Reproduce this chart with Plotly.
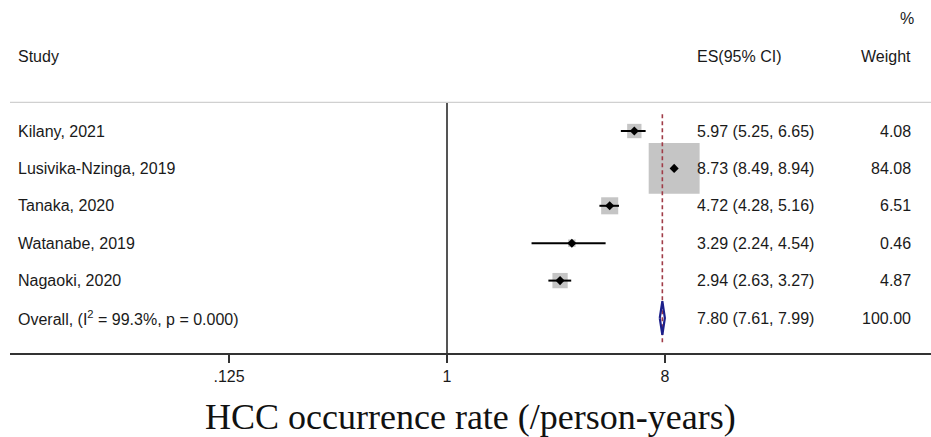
import numpy as np
import plotly.graph_objects as go

studies = ["Kilany, 2021", "Lusivika-Nzinga, 2019", "Tanaka, 2020", "Watanabe, 2019", "Nagaoki, 2020"]
es = [5.97, 8.73, 4.72, 3.29, 2.94]
lo = [5.25, 8.49, 4.28, 2.24, 2.63]
hi = [6.65, 8.94, 5.16, 4.54, 3.27]
weights = [4.08, 84.08, 6.51, 0.46, 4.87]

overall_label = "Overall, (I<sup>2</sup> = 99.3%, p = 0.000)"
overall_es, overall_lo, overall_hi, overall_w = 7.80, 7.61, 7.99, 100.00

tick_vals = [0.125, 1, 8]
tick_text = [".125", "1", "8"]
x_title = "HCC occurrence rate (/person-years)"

rows = list(range(1, len(studies) + 1))
overall_row = len(studies) + 1

FONT = "Liberation Sans, Arial, sans-serif"
TXT = "#1a1a1a"

fig = go.Figure()

# weight boxes
box_sizes = [5.12 * np.sqrt(w) + 4 for w in weights]
fig.add_trace(go.Scatter(x=es, y=rows, mode="markers",
                         marker=dict(symbol="square", size=box_sizes, color="#adadad",
                                     line=dict(width=0)),
                         hoverinfo="skip", showlegend=False))

# null line at 1
fig.add_trace(go.Scatter(x=[1, 1], y=[0.233, 6.936], mode="lines",
                         line=dict(color="#555555", width=2),
                         hoverinfo="skip", showlegend=False))

# overall dashed line
fig.add_trace(go.Scatter(x=[overall_es, overall_es], y=[0.55, 6.7], mode="lines",
                         line=dict(color="#a03c48", width=1.6, dash="4px,3px"),
                         hoverinfo="skip", showlegend=False))

# CI lines
cx, cy = [], []
for r, l, h in zip(rows, lo, hi):
    cx += [l, h, None]
    cy += [r, r, None]
fig.add_trace(go.Scatter(x=cx, y=cy, mode="lines",
                         line=dict(color="black", width=2),
                         hoverinfo="skip", showlegend=False))

# point estimates
fig.add_trace(go.Scatter(x=es, y=rows, mode="markers",
                         marker=dict(symbol="diamond", size=7, color="black",
                                     line=dict(width=0)),
                         hoverinfo="skip", showlegend=False))

# overall diamond
hh = 0.45
fig.add_trace(go.Scatter(
    x=[overall_lo, overall_es, overall_hi, overall_es, overall_lo],
    y=[overall_row, overall_row - hh, overall_row, overall_row + hh, overall_row],
    mode="lines", line=dict(color="#1c1f8a", width=2.2),
    hoverinfo="skip", showlegend=False))

# header separator line
fig.add_shape(type="line", xref="paper", yref="y", x0=0, x1=1, y0=0.233, y1=0.233,
              line=dict(color="#d0d0d0", width=1.2))

X_STUDY = 6 / 921
X_ES = (695 - 10) / 921
X_W = (913 - 10) / 921

def ann(x, y, text, anchor):
    fig.add_annotation(x=x, y=y, xref="paper", yref="y", text=text, showarrow=False,
                       xanchor=anchor, yanchor="middle",
                       font=dict(family=FONT, size=16, color=TXT))

ann(X_STUDY, -1, "Study", "left")
ann(X_ES, -1, "ES(95% CI)", "left")
ann(X_W, -1, "Weight", "right")
ann(X_W + 3 / 921, -2, "%", "right")

for r, s, e, l, h, w in zip(rows, studies, es, lo, hi, weights):
    ann(X_STUDY, r, s, "left")
    ann(X_ES, r, f"{e:.2f} ({l:.2f}, {h:.2f})", "left")
    ann(X_W, r, f"{w:.2f}", "right")

ann(X_STUDY, overall_row, overall_label, "left")
ann(X_ES, overall_row, f"{overall_es:.2f} ({overall_lo:.2f}, {overall_hi:.2f})", "left")
ann(X_W, overall_row, f"{overall_w:.2f}", "right")

fig.add_annotation(x=0.5, y=(353 - 417) / 353, xref="paper", yref="paper",
                   text=x_title, showarrow=False, xanchor="center", yanchor="middle",
                   font=dict(family="Liberation Serif, Times New Roman, serif", size=36,
                             color="#111111"))

fig.update_xaxes(type="log", range=[-1.8103, 2.0050],
                 tickvals=tick_vals, ticktext=tick_text,
                 ticks="outside", ticklen=8, tickwidth=1.5, tickcolor="#333333",
                 showline=True, linecolor="#333333", linewidth=1.5,
                 showgrid=False, zeroline=False,
                 tickfont=dict(family=FONT, size=16, color=TXT))
fig.update_yaxes(visible=False, range=[6.936, -2.503], showgrid=False, zeroline=False)

fig.update_layout(width=931, height=437, margin=dict(l=10, r=0, t=0, b=84),
                  plot_bgcolor="white", paper_bgcolor="white", showlegend=False)

fig.write_html("out.html")
